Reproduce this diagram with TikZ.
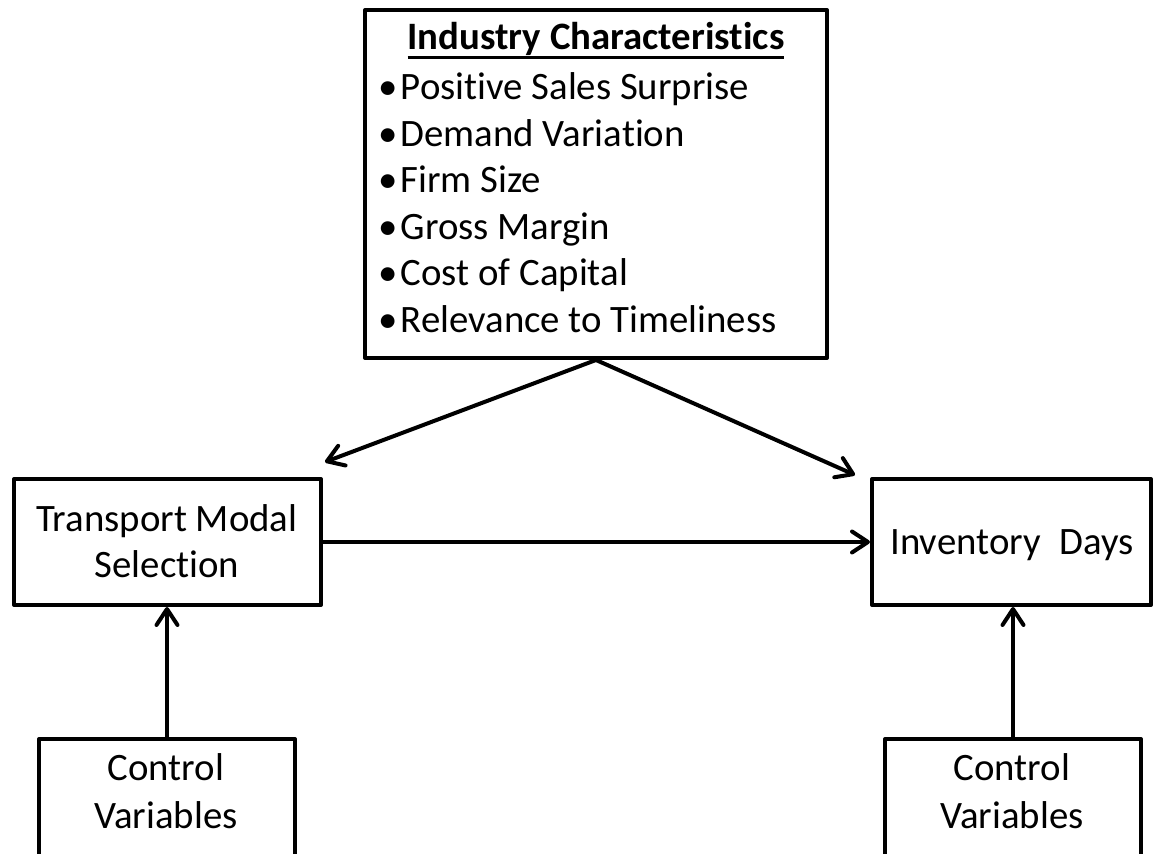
\documentclass[tikz,border=0pt]{standalone}
\usepackage{fontspec}
\setmainfont{Carlito}[Ligatures=NoCommon]
\usetikzlibrary{arrows.meta}
\newcommand\myul[1]{\setbox0\hbox{#1}\rlap{\rule[-4.6pt]{\wd0}{1.5pt}}#1}
\begin{document}
\begin{tikzpicture}[x=0.5pt,y=-0.5pt,
  box/.style={draw, line width=2pt, line join=round, inner sep=0pt, outer sep=1pt},
  txt/.style={font=\fontsize{19.4}{23.25}\selectfont, inner sep=0pt},
  arr/.style={line width=2pt, line cap=round, -{Straight Barb[length=8pt,width=10.5pt,round]}}]
\useasboundingbox (0,0) rectangle (1155,854);
\clip (0,0) rectangle (1155,854);
% boxes
\node[box, minimum width=231pt, minimum height=174pt] (ind) at (596,184) {};
\node[box, minimum width=153.5pt, minimum height=63pt] (tms) at (167.5,542) {};
\node[box, minimum width=139.5pt, minimum height=63pt] (inv) at (1011.5,542) {};
\node[box, minimum width=128pt, minimum height=70.5pt] (ctrlL) at (167,809.5) {};
\node[box, minimum width=128pt, minimum height=70.5pt] (ctrlR) at (1013,809.5) {};
% texts
\node[txt, anchor=base] (title) at (596,50) {\bfseries\myul{Industry Characteristics}};
\node[txt, anchor=base west] (b1) at (378,100) {\textbullet\hspace{1.5pt}Positive Sales Surprise};
\node[txt, anchor=base west] (b2) at (378,146.5) {\textbullet\hspace{1.5pt}Demand Variation};
\node[txt, anchor=base west] (b3) at (378,193) {\textbullet\hspace{1.5pt}Firm Size};
\node[txt, anchor=base west] (b4) at (378,239.5) {\textbullet\hspace{1.5pt}Gross Margin};
\node[txt, anchor=base west] (b5) at (378,286) {\textbullet\hspace{1.5pt}Cost of Capital};
\node[txt, anchor=base west] (b6) at (378,332.5) {\textbullet\hspace{1.5pt}Relevance to Timeliness};
\node[txt, anchor=base] (tms1) at (167,531) {Transport Modal};
\node[txt, anchor=base] (tms2) at (167,578) {Selection};
\node[txt, anchor=base] (inv1) at (1012,555) {Inventory\hspace{5pt} Days};
\node[txt, anchor=base] (cl1) at (166,780) {Control};
\node[txt, anchor=base] (cl2) at (166,828) {Variables};
\node[txt, anchor=base] (cr1) at (1012,780) {Control};
\node[txt, anchor=base] (cr2) at (1012,828) {Variables};
% connectors
\coordinate (tipL) at (325,462);
\coordinate (tipR) at (855,475);
\draw[arr] (ind.south) -- (tipL);
\draw[arr] (ind.south) -- (tipR);
\draw[arr] (tms.east) -- (inv.west);
\draw[arr] (ctrlL.north) -- (ctrlL.north |- tms.south);
\draw[arr] (ctrlR.north) -- (ctrlR.north |- inv.south);
\end{tikzpicture}
\end{document}
